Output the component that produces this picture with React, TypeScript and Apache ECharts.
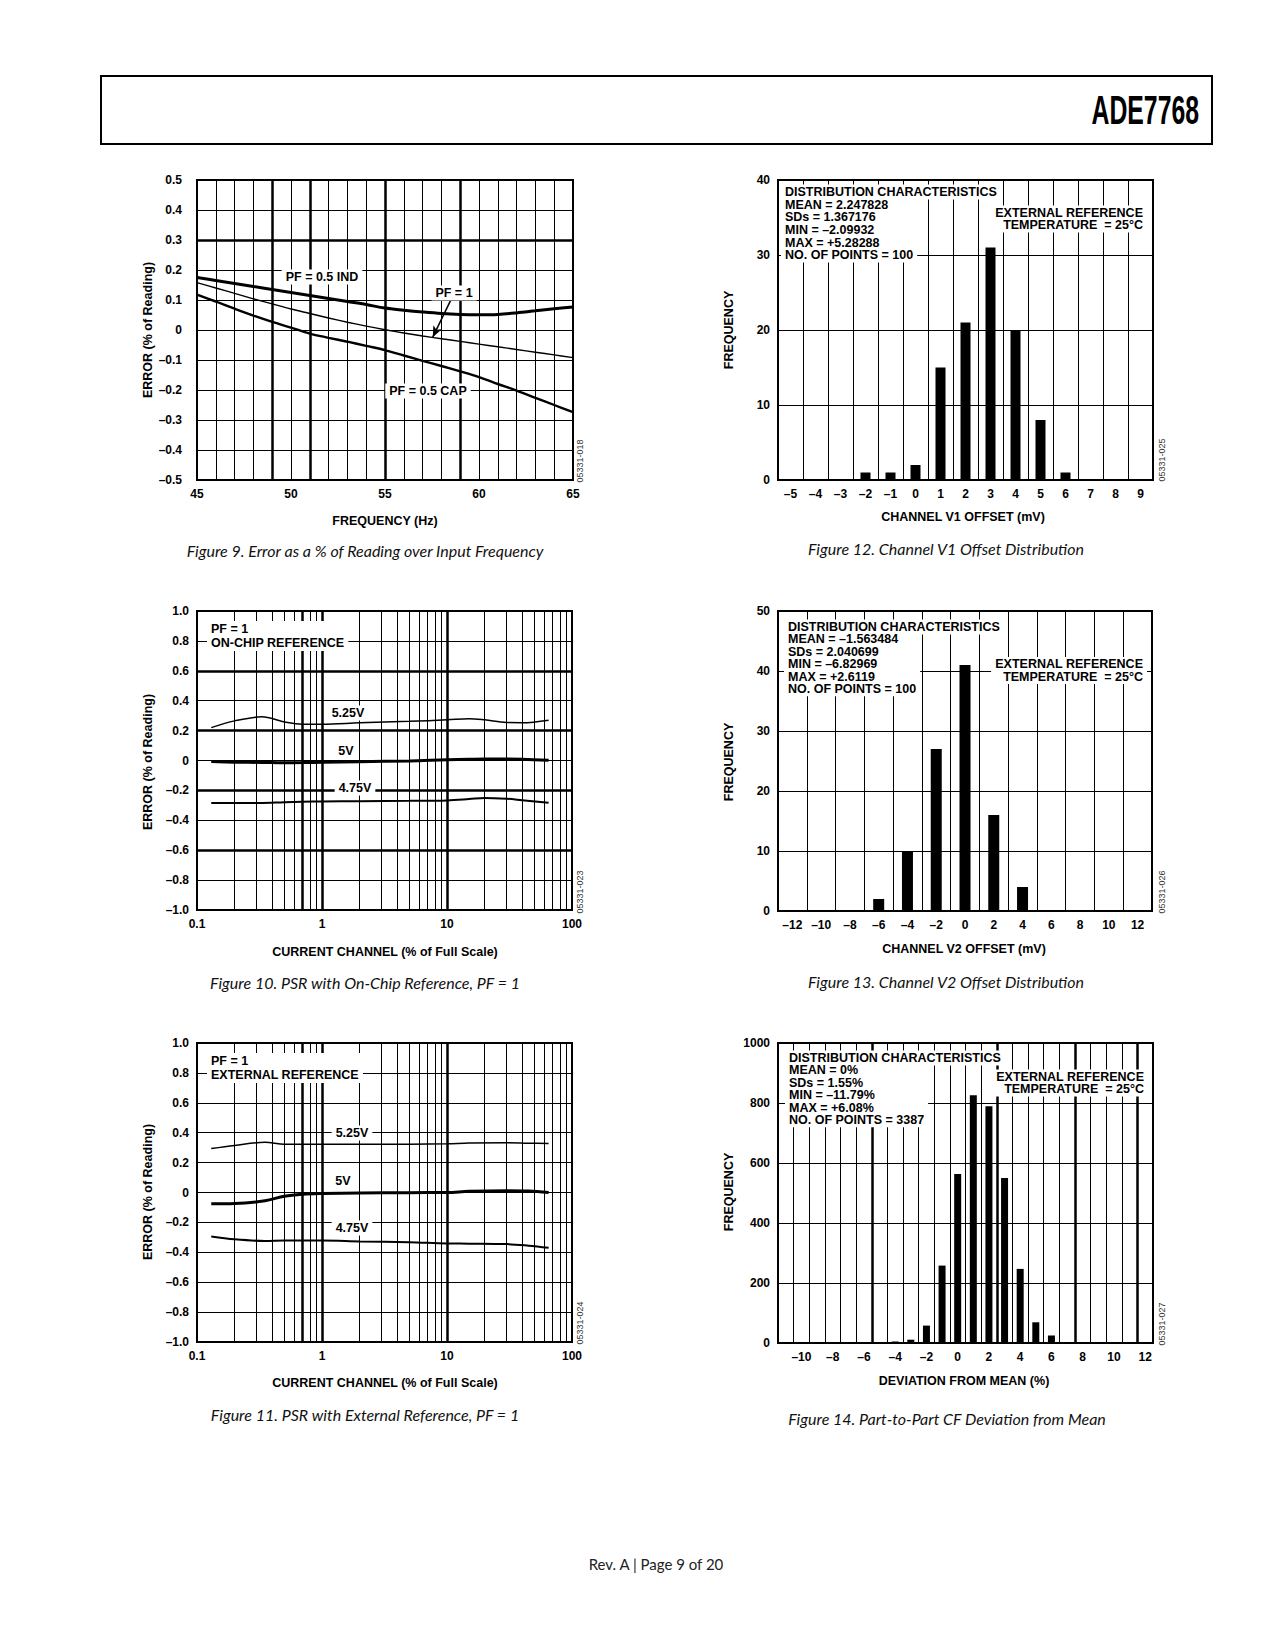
import React, { useEffect, useRef } from "react";
import * as echarts from "echarts";

// ---------- Figure 9: error vs frequency ----------
const fig9Freq = [45, 46, 47, 48, 49, 50, 51, 52, 53, 54, 55, 56, 57, 58, 59, 60, 61, 62, 63, 64, 65];
const fig9Ind = [0.175, 0.165, 0.155, 0.145, 0.135, 0.125, 0.115, 0.105, 0.095, 0.085, 0.073, 0.066, 0.06, 0.055, 0.052, 0.051, 0.052, 0.057, 0.064, 0.071, 0.077];
const fig9Pf1 = [0.158, 0.14, 0.122, 0.104, 0.087, 0.07, 0.055, 0.04, 0.026, 0.013, 0.001, -0.01, -0.02, -0.029, -0.038, -0.047, -0.056, -0.065, -0.074, -0.083, -0.092];
const fig9Cap = [0.118, 0.095, 0.071, 0.048, 0.027, 0.008, -0.012, -0.026, -0.039, -0.053, -0.067, -0.085, -0.103, -0.12, -0.138, -0.157, -0.18, -0.202, -0.226, -0.25, -0.274];
const fig9HeavyX = [49, 51, 55, 59];
const fig9HeavyY = [0.3];
const fig9Arrow = [[58.55, 0.106], [57.54, -0.024]];

// ---------- Figure 10: PSR on-chip reference ----------
const fig10X = [0.13, 0.2, 0.33, 0.5, 0.7, 1, 2, 5, 10, 15, 20, 30, 40, 65];
const fig10V525 = [0.22, 0.265, 0.292, 0.258, 0.243, 0.243, 0.252, 0.262, 0.272, 0.28, 0.272, 0.254, 0.253, 0.27];
const fig10V5 = [-0.007, -0.011, -0.013, -0.015, -0.014, -0.012, -0.008, -0.003, 0.005, 0.008, 0.01, 0.01, 0.009, 0.002];
const fig10V475 = [-0.285, -0.285, -0.284, -0.279, -0.276, -0.274, -0.272, -0.27, -0.267, -0.258, -0.25, -0.256, -0.266, -0.283];
const fig10HeavyY = [0.6, 0.2, -0.2, -0.6];

// ---------- Figure 11: PSR external reference ----------
const fig11X = [0.13, 0.2, 0.35, 0.5, 0.7, 1, 2, 5, 10, 15, 30, 45, 65];
const fig11V525 = [0.294, 0.315, 0.336, 0.322, 0.322, 0.322, 0.322, 0.323, 0.326, 0.331, 0.333, 0.33, 0.328];
const fig11V5 = [-0.076, -0.074, -0.055, -0.025, -0.012, -0.007, -0.003, -0.001, 0.0, 0.008, 0.012, 0.01, 0.0];
const fig11V475 = [-0.294, -0.313, -0.324, -0.321, -0.321, -0.321, -0.327, -0.333, -0.341, -0.342, -0.345, -0.356, -0.37];

// log-axis grid lines shared by Figures 10 and 11
const logMinorX = [0.2, 0.3, 0.4, 0.5, 0.6, 0.8, 0.9, 2, 3, 4, 5, 6, 7, 8, 9, 20, 30, 40, 50, 60, 70, 80, 90];
const logHeavyX = [0.7, 1, 10];

// ---------- Figure 12: Channel V1 offset ----------
const fig12Bins = [-5, -4, -3, -2, -1, 0, 1, 2, 3, 4, 5, 6, 7, 8, 9];
const fig12Counts = [0, 0, 0, 1, 1, 2, 15, 21, 31, 20, 8, 1, 0, 0, 0];
const fig12Stats = ["MEAN = 2.247828", "SDs = 1.367176", "MIN = \u20132.09932", "MAX = +5.28288", "NO. OF POINTS = 100"];

// ---------- Figure 13: Channel V2 offset ----------
const fig13Bins = [-12, -10, -8, -6, -4, -2, 0, 2, 4, 6, 8, 10, 12];
const fig13Counts = [0, 0, 0, 2, 10, 27, 41, 16, 4, 0, 0, 0, 0];
const fig13Stats = ["MEAN = \u20131.563484", "SDs = 2.040699", "MIN = \u20136.82969", "MAX = +2.6119", "NO. OF POINTS = 100"];

// ---------- Figure 14: CF deviation ----------
const fig14Bins = [-11, -10, -9, -8, -7, -6, -5, -4, -3, -2, -1, 0, 1, 2, 3, 4, 5, 6, 7, 8, 9, 10, 11, 12];
const fig14Counts = [0, 0, 0, 0, 0, 0, 0, 5, 11, 58, 258, 563, 826, 789, 550, 247, 69, 25, 0, 0, 0, 0, 0, 0];
const fig14Stats = ["MEAN = 0%", "SDs = 1.55%", "MIN = \u201311.79%", "MAX = +6.08%", "NO. OF POINTS = 3387"];
const fig14HeavyX = [-5.5, 2.5, 7.5, 11.5];

const SANS = '"Liberation Sans", Arial, Helvetica, sans-serif';
const CAP_FONT = 'Lato, "Open Sans", sans-serif';
const DASH = "\u2013";

const zip = (xs: number[], ys: number[]) => xs.map((x, i) => [x, ys[i]]);
const signed = (v: number, digits: number) => {
  const r = Math.round(v * 1000) / 1000;
  if (Math.abs(r) < 1e-9) return "0";
  return (r < 0 ? DASH : "") + Math.abs(r).toFixed(digits);
};
const intLabel = (v: any) => {
  const n = Number(v);
  return n < 0 ? DASH + Math.abs(n) : String(n);
};

const labelStyle = (margin: number) => ({
  color: "#000",
  fontFamily: SANS,
  fontWeight: "bold",
  fontSize: 12,
  margin,
  showMinLabel: true,
  showMaxLabel: true,
});
const split = { show: true, lineStyle: { color: "#000", width: 1, type: "solid" } };
const noLine = { show: false };

const markLines = (data: any[]) => ({
  silent: true,
  symbol: ["none", "none"],
  label: { show: false },
  emphasis: { disabled: true },
  lineStyle: { color: "#000", type: "solid" },
  animation: false,
  data,
});
const vl = (vals: number[], width: number) => vals.map((v) => ({ xAxis: v, lineStyle: { color: "#000", width, type: "solid" } }));
const hl = (vals: number[], width: number) => vals.map((v) => ({ yAxis: v, lineStyle: { color: "#000", width, type: "solid" } }));

const line = (xi: number, yi: number, xs: number[], ys: number[], width: number, extra: any = {}) => ({
  type: "line",
  xAxisIndex: xi,
  yAxisIndex: yi,
  data: zip(xs, ys),
  smooth: 0.35,
  showSymbol: false,
  symbol: "none",
  silent: true,
  z: 3,
  lineStyle: { color: "#000", width },
  ...extra,
});

const bar = (xi: number, yi: number, counts: number[], width: number) => ({
  type: "bar",
  xAxisIndex: xi,
  yAxisIndex: yi,
  data: counts,
  barWidth: width,
  silent: true,
  z: 3,
  itemStyle: { color: "#000" },
});

type TxtOpt = {
  x: number;
  y: number;
  text: string;
  align?: "left" | "center" | "right";
  font?: string;
  bg?: boolean;
  rot?: number;
  lh?: number;
  fill?: string;
  scaleX?: number;
};
const BOLD_TEXT = `bold 12.5px ${SANS}`;
const txt = (o: TxtOpt) => {
  const align = o.align || "center";
  const padH = 4;
  let x = o.x;
  if (o.bg) {
    if (align === "left") x -= padH;
    if (align === "right") x += padH;
  }
  const style: any = {
    text: o.text,
    font: o.font || BOLD_TEXT,
    fill: o.fill || "#000",
    align,
    verticalAlign: "middle",
  };
  if (o.lh) style.lineHeight = o.lh;
  if (o.bg) {
    style.backgroundColor = "#fff";
    style.padding = [1, padH, 1, padH];
  }
  return {
    type: "text",
    x,
    y: o.y,
    rotation: o.rot || 0,
    scaleX: o.scaleX || 1,
    z: 100,
    silent: true,
    style,
  };
};

const ROT = Math.PI / 2;
const CODE_FONT = `9px ${SANS}`;
const CAPTION = `italic 16px ${CAP_FONT}`;

function buildOption(): any {
  const gridBase = { show: true, borderColor: "#000", borderWidth: 2, backgroundColor: "transparent", containLabel: false };
  const grid = [
    { left: 197, top: 180, width: 376, height: 300 },
    { left: 197, top: 611, width: 375, height: 299 },
    { left: 197, top: 1043, width: 375, height: 299 },
    { left: 778, top: 180, width: 375, height: 300 },
    { left: 778, top: 611, width: 374, height: 300 },
    { left: 778, top: 1043, width: 375, height: 300 },
  ].map((g) => ({ ...gridBase, ...g }));

  const logAxis = (gi: number) => ({
    gridIndex: gi,
    type: "log",
    logBase: 10,
    min: 0.1,
    max: 100,
    axisLine: noLine,
    axisTick: noLine,
    splitLine: split,
    axisLabel: { ...labelStyle(8), formatter: (v: number) => String(Number(Number(v).toPrecision(2))) },
  });
  const catAxis = (gi: number, bins: number[], labelInterval: any = 0) => ({
    gridIndex: gi,
    type: "category",
    data: bins,
    boundaryGap: true,
    axisLine: noLine,
    axisTick: noLine,
    splitLine: { ...split, interval: 0 },
    axisLabel: { ...labelStyle(8), interval: labelInterval, formatter: intLabel },
  });

  const xAxis = [
    {
      gridIndex: 0,
      type: "value",
      min: 45,
      max: 65,
      interval: 1,
      axisLine: noLine,
      axisTick: noLine,
      splitLine: split,
      axisLabel: { ...labelStyle(8), formatter: (v: number) => (Math.round(v) % 5 === 0 ? String(Math.round(v)) : "") },
    },
    logAxis(1),
    logAxis(2),
    catAxis(3, fig12Bins),
    catAxis(4, fig13Bins),
    catAxis(5, fig14Bins, (_i: number, v: any) => Number(v) % 2 === 0),
    { gridIndex: 5, type: "value", min: -11.5, max: 12.5, show: false, splitLine: noLine },
  ];

  const valY = (gi: number, min: number, max: number, interval: number, fmt: any, margin = 8) => ({
    gridIndex: gi,
    type: "value",
    min,
    max,
    interval,
    axisLine: noLine,
    axisTick: noLine,
    splitLine: split,
    axisLabel: { ...labelStyle(margin), formatter: fmt },
  });
  const yAxis = [
    valY(0, -0.5, 0.5, 0.1, (v: number) => signed(v, 1), 15),
    valY(1, -1, 1, 0.2, (v: number) => signed(v, 1)),
    valY(2, -1, 1, 0.2, (v: number) => signed(v, 1)),
    valY(3, 0, 40, 10, (v: number) => String(v)),
    valY(4, 0, 50, 10, (v: number) => String(v)),
    valY(5, 0, 1000, 200, (v: number) => String(v)),
  ];

  const series = [
    // Figure 9
    line(0, 0, fig9Freq, fig9Ind, 3, { markLine: markLines([...vl(fig9HeavyX, 2.5), ...hl(fig9HeavyY, 2.5)]) }),
    line(0, 0, fig9Freq, fig9Pf1, 1.4, {
      markLine: {
        silent: true,
        label: { show: false },
        emphasis: { disabled: true },
        animation: false,
        data: [
          [
            { coord: fig9Arrow[0], symbol: "none" },
            { coord: fig9Arrow[1], symbol: "arrow", symbolSize: [7, 11] },
          ],
        ],
        lineStyle: { color: "#000", width: 1.5, type: "solid" },
      },
    }),
    line(0, 0, fig9Freq, fig9Cap, 2.4),
    // Figure 10
    line(1, 1, fig10X, fig10V525, 1.5, { markLine: markLines([...vl(logMinorX, 1), ...vl(logHeavyX, 2.5), ...hl(fig10HeavyY, 2.5)]) }),
    line(1, 1, fig10X, fig10V5, 3),
    line(1, 1, fig10X, fig10V475, 2),
    // Figure 11
    line(2, 2, fig11X, fig11V525, 1.5, { markLine: markLines([...vl(logMinorX, 1), ...vl(logHeavyX, 2.5)]) }),
    line(2, 2, fig11X, fig11V5, 3),
    line(2, 2, fig11X, fig11V475, 2),
    // Figures 12-14
    bar(3, 3, fig12Counts, 10),
    bar(4, 4, fig13Counts, 11),
    bar(5, 5, fig14Counts, 7),
    {
      type: "line",
      xAxisIndex: 6,
      yAxisIndex: 5,
      data: [[-11.5, 0], [12.5, 0]],
      showSymbol: false,
      symbol: "none",
      silent: true,
      lineStyle: { opacity: 0 },
      markLine: markLines(vl(fig14HeavyX, 2.5)),
    },
  ];

  const graphic = [
    // page header
    { type: "rect", shape: { x: 101, y: 76, width: 1111, height: 68 }, style: { fill: "none", stroke: "#000", lineWidth: 2 }, silent: true, z: 100 },
    txt({ x: 1199, y: 110, text: "ADE7768", align: "right", font: `bold 40px ${SANS}`, scaleX: 0.62 }),
    txt({ x: 656, y: 1564, text: "Rev. A | Page 9 of 20", font: `15px ${CAP_FONT}`, fill: "#222" }),

    // Figure 9
    txt({ x: 322, y: 277, text: "PF = 0.5 IND", bg: true }),
    txt({ x: 454, y: 293, text: "PF = 1", bg: true }),
    txt({ x: 428, y: 391, text: "PF = 0.5 CAP", bg: true }),
    txt({ x: 148, y: 330, text: "ERROR (% of Reading)", rot: ROT }),
    txt({ x: 385, y: 521, text: "FREQUENCY (Hz)" }),
    txt({ x: 580, y: 461, text: "05331-018", rot: ROT, font: CODE_FONT, fill: "#333" }),
    txt({ x: 365, y: 550, text: "Figure 9. Error as a % of Reading over Input Frequency", font: CAPTION, fill: "#111" }),

    // Figure 10
    txt({ x: 211, y: 636, text: "PF = 1\nON-CHIP REFERENCE", align: "left", bg: true, lh: 14 }),
    txt({ x: 348, y: 713, text: "5.25V", bg: true }),
    txt({ x: 346, y: 751, text: "5V", bg: true }),
    txt({ x: 355, y: 788, text: "4.75V", bg: true }),
    txt({ x: 148, y: 762, text: "ERROR (% of Reading)", rot: ROT }),
    txt({ x: 385, y: 952, text: "CURRENT CHANNEL (% of Full Scale)" }),
    txt({ x: 580, y: 892, text: "05331-023", rot: ROT, font: CODE_FONT, fill: "#333" }),
    txt({ x: 365, y: 982, text: "Figure 10. PSR with On-Chip Reference, PF = 1", font: CAPTION, fill: "#111" }),

    // Figure 11
    txt({ x: 211, y: 1068, text: "PF = 1\nEXTERNAL REFERENCE", align: "left", bg: true, lh: 14 }),
    txt({ x: 352, y: 1133, text: "5.25V", bg: true }),
    txt({ x: 343, y: 1181, text: "5V", bg: true }),
    txt({ x: 352, y: 1228, text: "4.75V", bg: true }),
    txt({ x: 148, y: 1192, text: "ERROR (% of Reading)", rot: ROT }),
    txt({ x: 385, y: 1383, text: "CURRENT CHANNEL (% of Full Scale)" }),
    txt({ x: 580, y: 1323, text: "05331-024", rot: ROT, font: CODE_FONT, fill: "#333" }),
    txt({ x: 365, y: 1414, text: "Figure 11. PSR with External Reference, PF = 1", font: CAPTION, fill: "#111" }),

    // Figure 12
    txt({ x: 785, y: 192, text: "DISTRIBUTION CHARACTERISTICS", align: "left", bg: true }),
    txt({ x: 785, y: 230, text: fig12Stats.join("\n"), align: "left", bg: true, lh: 12.6 }),
    txt({ x: 1143, y: 219, text: "EXTERNAL REFERENCE\nTEMPERATURE  = 25\u00b0C", align: "right", bg: true, lh: 12.5 }),
    txt({ x: 729, y: 330, text: "FREQUENCY", rot: ROT }),
    txt({ x: 963, y: 517, text: "CHANNEL V1 OFFSET (mV)" }),
    txt({ x: 1162, y: 460, text: "05331-025", rot: ROT, font: CODE_FONT, fill: "#333" }),
    txt({ x: 946, y: 548, text: "Figure 12. Channel V1 Offset Distribution", font: CAPTION, fill: "#111" }),

    // Figure 13
    txt({ x: 788, y: 627, text: "DISTRIBUTION CHARACTERISTICS", align: "left", bg: true }),
    txt({ x: 788, y: 664, text: fig13Stats.join("\n"), align: "left", bg: true, lh: 12.5 }),
    txt({ x: 1143, y: 670.5, text: "EXTERNAL REFERENCE\nTEMPERATURE  = 25\u00b0C", align: "right", bg: true, lh: 12.5 }),
    txt({ x: 729, y: 762, text: "FREQUENCY", rot: ROT }),
    txt({ x: 964, y: 949, text: "CHANNEL V2 OFFSET (mV)" }),
    txt({ x: 1162, y: 892, text: "05331-026", rot: ROT, font: CODE_FONT, fill: "#333" }),
    txt({ x: 946, y: 981, text: "Figure 13. Channel V2 Offset Distribution", font: CAPTION, fill: "#111" }),

    // Figure 14
    txt({ x: 789, y: 1058, text: "DISTRIBUTION CHARACTERISTICS", align: "left", bg: true }),
    txt({ x: 789, y: 1095, text: fig14Stats.join("\n"), align: "left", bg: true, lh: 12.5 }),
    txt({ x: 1144, y: 1083, text: "EXTERNAL REFERENCE\nTEMPERATURE  = 25\u00b0C", align: "right", bg: true, lh: 12.5 }),
    txt({ x: 729, y: 1192, text: "FREQUENCY", rot: ROT }),
    txt({ x: 964, y: 1381, text: "DEVIATION FROM MEAN (%)" }),
    txt({ x: 1162, y: 1324, text: "05331-027", rot: ROT, font: CODE_FONT, fill: "#333" }),
    txt({ x: 947, y: 1418, text: "Figure 14. Part-to-Part CF Deviation from Mean", font: CAPTION, fill: "#111" }),
  ];

  return {
    animation: false,
    backgroundColor: "#fff",
    textStyle: { fontFamily: SANS },
    grid,
    xAxis,
    yAxis,
    series,
    graphic: { elements: graphic },
  };
}

export default function App() {
  const ref = useRef<HTMLDivElement>(null);
  useEffect(() => {
    if (!ref.current) return;
    const chart = echarts.init(ref.current, null, { renderer: "svg" });
    chart.setOption(buildOption());
    return () => chart.dispose();
  }, []);
  return (
    <div
      ref={ref}
      style={{ position: "absolute", left: 0, top: 0, width: 1275, height: 1650, background: "#fff" }}
    />
  );
}
